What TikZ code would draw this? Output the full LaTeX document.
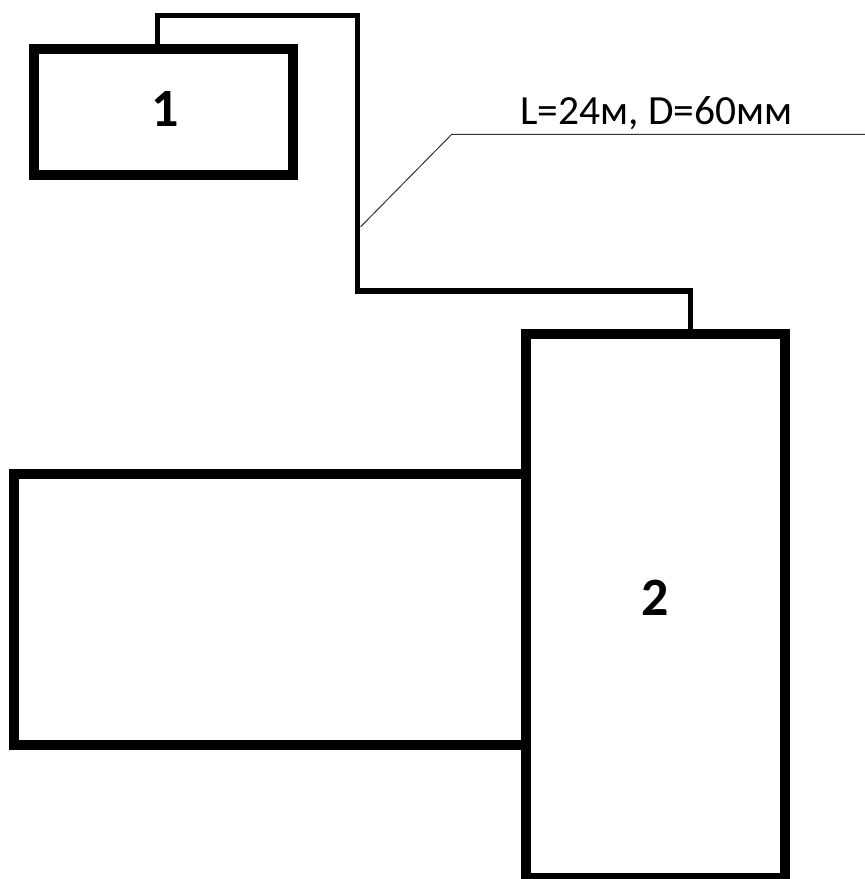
\documentclass[tikz,border=0pt]{standalone}
\usepackage{fontspec}
\setmainfont{Carlito}
\usetikzlibrary{calc}

\tikzset{
  unit/.style={draw=black, line width=10pt, fill=white, inner sep=0pt, outer sep=0pt},
  pipe/.style={line width=5.5pt, line cap=rect},
  leader/.style={line width=1pt, draw=black!80},
  num/.style={font=\fontsize{54}{60}\selectfont\bfseries, inner sep=0pt},
  dim/.style={font=\fontsize{41.5}{48}\selectfont, inner sep=0pt, anchor=base west}
}

\begin{document}
\begin{tikzpicture}[x=1pt, y=-1pt]
  \useasboundingbox (0,0) rectangle (865,879);

  % units
  \node[unit, minimum width=512pt, minimum height=271pt] (box3) at (269.7,609.5) {};
  \node[unit, minimum width=259pt, minimum height=126pt] (box1) at (163.5,112) {};
  \node[unit, minimum width=259.6pt, minimum height=543.9pt] (box2) at (655.5,605.75) {};

  \node[num] (n1) at (165,109) {1};
  \node[num] (n2) at (655.5,598) {2};

  % pipe route and leader geometry
  \coordinate (p1) at (157.5,15.7);
  \coordinate (p2) at (357.5,291);
  \coordinate (p3) at (690.3,291);
  \coordinate (tap) at (360.7,226.7);
  \coordinate (knee) at (451.7,134.3);
  \coordinate (lend) at (866,134.3);

  % pipe between unit 1 and unit 2
  \draw[pipe] (box1.north -| p1) -- (p1) -| (p2) -- (p3) -- (box2.north -| p3);

  % dimension leader
  \draw[leader] (tap) -- (knee) -- (lend);
  \node[dim] (dimlabel) at (520,124) {L=24м, D=60мм};
\end{tikzpicture}
\end{document}
